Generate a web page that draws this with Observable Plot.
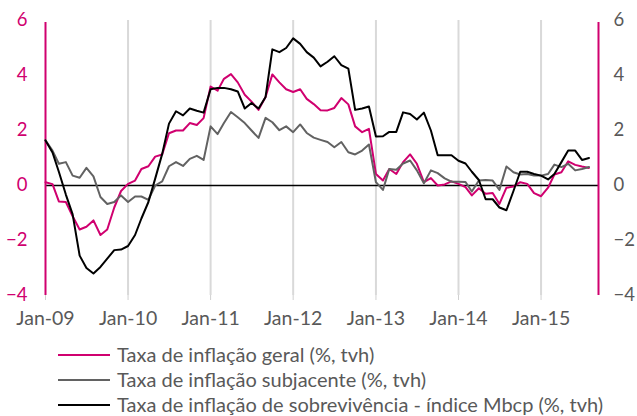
<!DOCTYPE html>
<html>
<head>
<meta charset="utf-8">
<script src="https://cdn.jsdelivr.net/npm/d3@7"></script>
<script src="https://cdn.jsdelivr.net/npm/@observablehq/plot@0.6"></script>
<style>
  html, body { margin: 0; padding: 0; background: #fff; }
  #chart { width: 637px; height: 416px; position: relative; overflow: hidden; }
  #legend { position: absolute; left: 0; top: 342px; font-family: Lato, sans-serif; font-size: 20px; color: #595959; }
  .row { height: 25px; line-height: 25px; display: flex; align-items: center; white-space: nowrap; }
  .sw { display: inline-block; width: 52px; height: 2px; margin-left: 58px; margin-right: 7px; }
</style>
</head>
<body>
<div id="chart"></div>
<script>
// Tick labels and series names
const xTickLabels = ["Jan-09", "Jan-10", "Jan-11", "Jan-12", "Jan-13", "Jan-14", "Jan-15"];
const yTicks = [-4, -2, 0, 2, 4, 6];
const seriesNames = [
  "Taxa de inflação geral (%, tvh)",
  "Taxa de inflação subjacente (%, tvh)",
  "Taxa de inflação de sobrevivência - índice Mbcp (%, tvh)"
];

// Monthly values, Jan-2009 .. Aug-2015
const geral = [
  0.12, 0.05, -0.58, -0.6, -1.12, -1.6, -1.5, -1.27, -1.8, -1.6, -0.8, -0.2,
  0.06, 0.18, 0.6, 0.7, 1.05, 1.13, 1.9, 2.0, 2.0, 2.27, 2.2, 2.45,
  3.6, 3.45, 3.88, 4.05, 3.75, 3.3, 3.05, 2.75, 3.22, 4.04, 3.75, 3.5,
  3.4, 3.5, 3.15, 2.96, 2.74, 2.73, 2.82, 3.18, 2.95, 2.15, 1.94, 2.06,
  0.42, 0.18, 0.6, 0.42, 0.85, 1.13, 0.79, 0.12, 0.27, 0.0, 0.04, 0.15,
  0.06, -0.06, -0.36, -0.1, -0.3, -0.27, -0.67, -0.08, -0.04, 0.12, 0.06, -0.28,
  -0.39, -0.08, 0.4, 0.48, 0.88, 0.75, 0.69, 0.64
];
const subjacente = [
  1.64, 1.27, 0.79, 0.85, 0.36, 0.28, 0.64, 0.33, -0.42, -0.67, -0.6, -0.36,
  -0.6, -0.4, -0.4, -0.52, 0.0, 0.15, 0.7, 0.85, 0.71, 0.97, 1.08, 0.93,
  2.15, 1.87, 2.27, 2.67, 2.48, 2.27, 2.0, 1.73, 2.46, 2.3, 2.01, 2.15,
  1.94, 2.22, 1.91, 1.74, 1.66, 1.58, 1.39, 1.58, 1.21, 1.13, 1.27, 1.49,
  0.12, -0.16, 0.6, 0.57, 0.8, 0.91, 0.55, 0.08, 0.55, 0.45, 0.26, 0.14,
  0.14, 0.13, -0.22, 0.18, 0.2, 0.18, -0.16, 0.69, 0.48, 0.4, 0.42, 0.36,
  0.36, 0.42, 0.76, 0.67, 0.79, 0.55, 0.6, 0.67
];
const sobrevivencia = [
  1.64, 1.2, 0.5, -0.33, -1.05, -2.55, -3.0, -3.2, -2.96, -2.66, -2.35, -2.33,
  -2.2, -1.8, -1.2, -0.6, 0.25, 1.15, 2.25, 2.7, 2.55, 2.8, 2.72, 2.65,
  3.5, 3.55, 3.55, 3.5, 3.42, 2.8, 3.0, 2.8, 3.22, 4.95, 4.85, 5.0,
  5.35, 5.15, 4.85, 4.65, 4.33, 4.5, 4.7, 4.38, 4.25, 2.75, 2.8, 2.87,
  1.78, 1.79, 1.95, 1.95, 2.66, 2.6, 2.4, 2.65, 2.0, 1.1, 1.1, 1.1,
  0.9, 0.8, 0.5, 0.2, -0.5, -0.5, -0.8, -0.9, -0.2, 0.5, 0.5, 0.42,
  0.36, 0.22, 0.42, 0.85, 1.27, 1.27, 0.93, 1.0
];

const pink = "#d0006f";
const grayLine = "#626262";
const labelGray = "#595959";
const colors = [pink, grayLine, "#000000"];

const months = geral.map((_, i) => new Date(Date.UTC(2009, i, 1)));
const start = months[0];
const end = new Date(Date.UTC(2015, 8, 12));
const tickDates = xTickLabels.map((_, i) => new Date(Date.UTC(2009 + i, 0, 1)));
const labelByTime = new Map(tickDates.map((d, i) => [+d, xTickLabels[i]]));

const rows = [];
[geral, subjacente, sobrevivencia].forEach((arr, s) => {
  arr.forEach((v, i) => rows.push({date: months[i], value: v, series: seriesNames[s]}));
});

const chart = Plot.plot({
  width: 637,
  height: 340,
  marginTop: 20,
  marginBottom: 45,
  marginLeft: 45,
  marginRight: 39,
  style: {fontFamily: "Lato, sans-serif", fontSize: "18.5px", background: "#fff"},
  x: {type: "utc", domain: [start, end]},
  y: {domain: [-4, 6]},
  marks: [
    Plot.ruleX(tickDates.slice(1), {stroke: "#d9d9d9", strokeWidth: 2}),
    Plot.ruleY([0], {stroke: "#000", strokeWidth: 1.5}),
    Plot.ruleX([start], {y1: -4, y2: 6, stroke: pink, strokeWidth: 2, insetBottom: -2}),
    Plot.ruleX([end], {y1: -4, y2: 6, stroke: pink, strokeWidth: 2, insetBottom: -2}),
    Plot.axisY({anchor: "left", ticks: yTicks, tickSize: 0, tickPadding: 18, fill: pink, label: null}),
    Plot.axisY({anchor: "right", ticks: yTicks, tickSize: 0, tickPadding: 15, fill: labelGray, label: null}),
    Plot.axisX({ticks: tickDates, tickSize: 5, tickPadding: 11, stroke: "#d0d0d0", fill: labelGray,
      fontSize: 19.5, tickFormat: d => labelByTime.get(+d), label: null}),
    Plot.lineY(rows, {x: "date", y: "value", z: "series",
      stroke: d => colors[seriesNames.indexOf(d.series)], strokeWidth: 2, curve: "linear"})
  ]
});
const el = document.getElementById("chart");
el.appendChild(chart);

const legend = document.createElement("div");
legend.id = "legend";
seriesNames.forEach((name, i) => {
  const row = document.createElement("div");
  row.className = "row";
  const sw = document.createElement("span");
  sw.className = "sw";
  sw.style.background = colors[i];
  const t = document.createElement("span");
  t.textContent = name;
  row.appendChild(sw);
  row.appendChild(t);
  legend.appendChild(row);
});
el.appendChild(legend);
</script>
</body>
</html>
